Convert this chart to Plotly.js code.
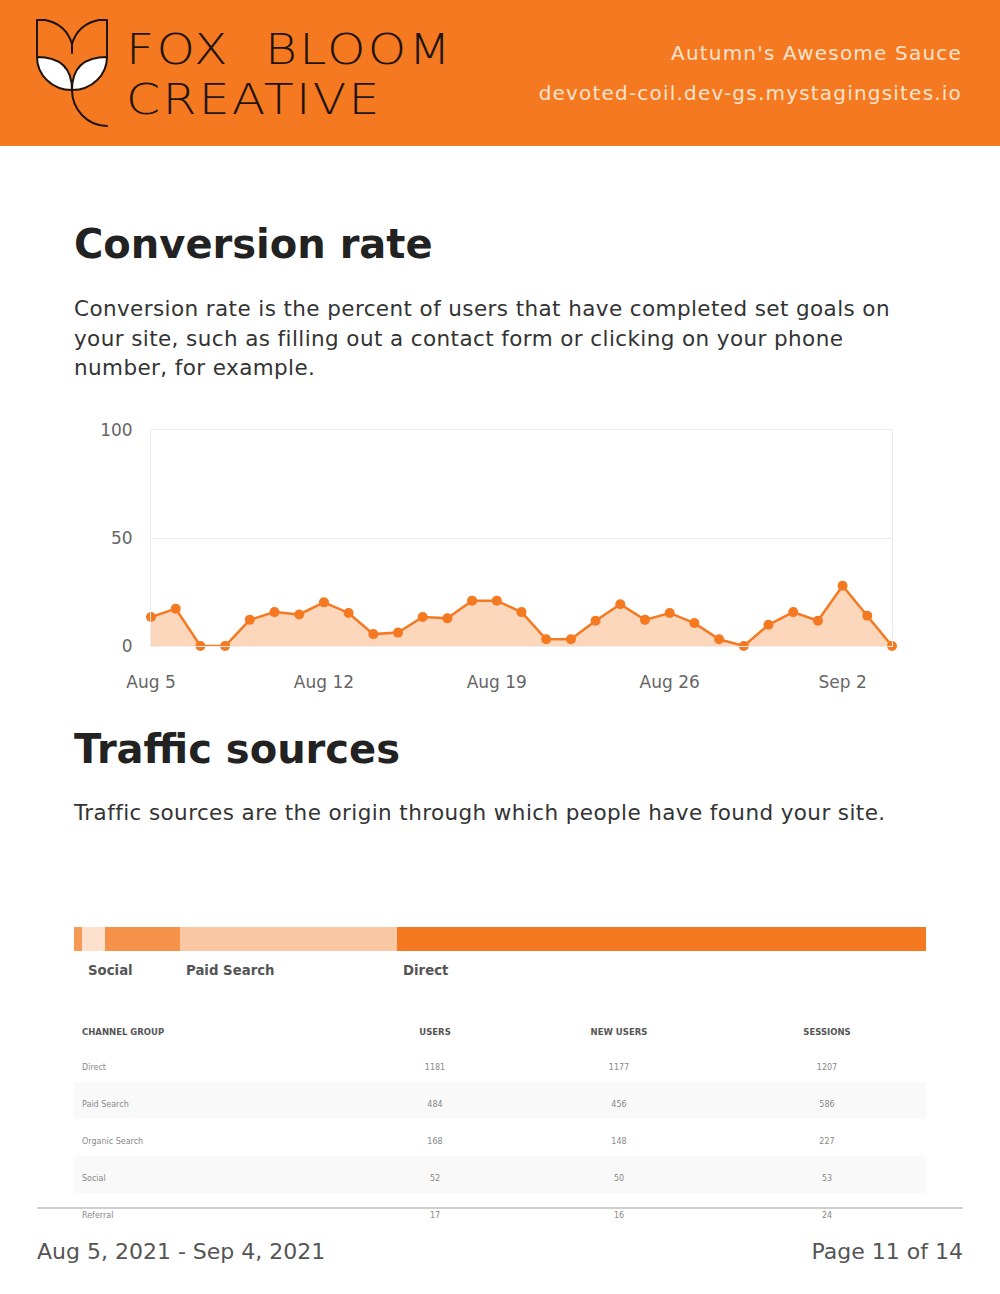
<!DOCTYPE html>
<html>
<head>
<meta charset="utf-8">
<script src="https://cdn.plot.ly/plotly-3.0.1.min.js"></script>
<style>
  html, body { margin:0; padding:0; background:#fff; }
  body { width:1000px; height:1294px; position:relative; overflow:hidden; font-family:"DejaVu Sans", sans-serif; }
  .abs { position:absolute; white-space:nowrap; }
  #header { position:absolute; left:0; top:0; width:1000px; height:146px; background:#F47920; }
  .logo { font-family:"DejaVu Sans ExtraLight","DejaVu Sans",sans-serif; font-weight:200; font-size:42.5px; color:#1f140c; line-height:44px; letter-spacing:2px; transform:scaleX(1.15); transform-origin:0 50%; }
  .hdr { color:#FCE3CF; font-size:20px; letter-spacing:1.2px; line-height:24px; right:38px; text-align:right; }
  .h1 { font-weight:bold; font-size:40px; color:#222; line-height:48px; left:74px; }
  .p { font-size:21.5px; color:#333; line-height:29.5px; left:74px; letter-spacing:0.4px; }
  .foot { font-size:22px; color:#555; line-height:28px; }
  #footline { position:absolute; left:37px; top:1207px; width:926px; height:2px; background:#cfcfcf; z-index:5; }
</style>
</head>
<body>
<div id="header">
  <svg width="150" height="146" style="position:absolute;left:0;top:0">
    <g fill="none" stroke="#1f140c" stroke-width="2" stroke-linecap="round" stroke-linejoin="round">
      <path d="M37,57 C37,75 52,90 72,90 C72,70 62,57 37,57 Z" fill="#fff"/>
      <path d="M107,57 C82,57 72,70 72,90 C92,90 107,75 107,57 Z" fill="#fff"/>
      <path d="M37,57 L37,20 L45,20 Q66,24 72,44 L72,53 M72,44 Q78,24 99,20 L107,20 L107,57"/>
      <path d="M72,90 C72,110 88,126 107,126"/>
    </g>
  </svg>
  <div class="abs logo" style="left:126px;top:28px;word-spacing:15px;">FOX BLOOM</div>
  <div class="abs logo" style="left:126px;top:78px;">CREATIVE</div>
  <div class="abs hdr" style="top:41px;">Autumn's Awesome Sauce</div>
  <div class="abs hdr" style="top:81px;">devoted-coil.dev-gs.mystagingsites.io</div>
</div>

<div class="abs h1" style="top:220px;">Conversion rate</div>
<div class="abs p" style="top:294px;">Conversion rate is the percent of users that have completed set goals on<br>your site, such as filling out a contact form or clicking on your phone<br>number, for example.</div>

<div id="chart" style="position:absolute;left:0;top:400px;width:1000px;height:300px;"></div>

<div class="abs h1" style="top:725px;">Traffic sources</div>
<div class="abs p" style="top:798px;">Traffic sources are the origin through which people have found your site.</div>

<div id="bar" style="position:absolute;left:0;top:915px;width:1000px;height:80px;"></div>
<div id="table" style="position:absolute;left:0;top:1000px;width:1000px;height:260px;"></div>

<div id="footline"></div>
<div style="position:absolute;left:0;top:1232px;width:1000px;height:62px;background:#fff;z-index:4;"></div>
<div class="abs foot" style="left:37px;top:1238px;z-index:6;">Aug 5, 2021 - Sep 4, 2021</div>
<div class="abs foot" style="right:37px;top:1238px;z-index:6;">Page 11 of 14</div>

<script>
// ---- Conversion rate data ----
const dates = ['2021-08-05','2021-08-06','2021-08-07','2021-08-08','2021-08-09','2021-08-10','2021-08-11','2021-08-12','2021-08-13','2021-08-14','2021-08-15','2021-08-16','2021-08-17','2021-08-18','2021-08-19','2021-08-20','2021-08-21','2021-08-22','2021-08-23','2021-08-24','2021-08-25','2021-08-26','2021-08-27','2021-08-28','2021-08-29','2021-08-30','2021-08-31','2021-09-01','2021-09-02','2021-09-03','2021-09-04'];
const conversionRate = [13.4,17.3,0,0,12.1,15.7,14.6,20.2,15.3,5.5,6.2,13.4,12.8,21.0,21.0,15.7,3.1,3.1,11.7,19.3,12.1,15.3,10.6,3.1,0,9.8,15.7,11.7,27.9,14.0,0];
const xTickVals = ['2021-08-05','2021-08-12','2021-08-19','2021-08-26','2021-09-02'];
const xTickText = ['Aug 5','Aug 12','Aug 19','Aug 26','Sep 2'];
const yTickVals = [0,50,100];

// ---- Traffic sources data ----
const channels = ['Direct','Paid Search','Organic Search','Social','Referral'];
const users = [1181,484,168,52,17];
const newUsers = [1177,456,148,50,16];
const sessions = [1207,586,227,53,24];
const tableHeaders = ['CHANNEL GROUP','USERS','NEW USERS','SESSIONS'];
// stacked bar order (left to right) and shown labels
const barOrder = ['Referral','Social','Organic Search','Paid Search','Direct'];
const barColors = ['#F59A55','#FDE1CD','#F6914A','#F9C7A3','#F47920'];
const barLabelShown = ['Social','Paid Search','Direct'];

const ORANGE = '#F47920';
const FONT = 'DejaVu Sans';

Plotly.newPlot('chart', [{
  x: dates, y: conversionRate, type:'scatter', mode:'lines+markers',
  fill:'tozeroy', fillcolor:'rgba(244,121,32,0.3)',
  line:{color:ORANGE, width:2.5}, marker:{color:ORANGE, size:10},
  cliponaxis:false, hoverinfo:'skip'
}], {
  width:1000, height:300,
  margin:{l:151, r:108, t:30, b:54},
  paper_bgcolor:'rgba(0,0,0,0)', plot_bgcolor:'#fff',
  showlegend:false,
  xaxis:{type:'date', range:[dates[0], dates[dates.length-1]], tickvals:xTickVals, ticktext:xTickText,
    showgrid:false, zeroline:false, showline:true, mirror:true, linecolor:'#ececec', linewidth:1,
    ticks:'outside', ticklen:21, tickcolor:'rgba(0,0,0,0)',
    tickfont:{family:FONT, size:17, color:'#666'}},
  yaxis:{range:[0,100], tickvals:yTickVals, showgrid:true, gridcolor:'#ececec', zeroline:false,
    showline:true, mirror:true, linecolor:'#ececec', linewidth:1,
    ticks:'outside', ticklen:14, tickcolor:'rgba(0,0,0,0)',
    tickfont:{family:FONT, size:17, color:'#666'}}
}, {staticPlot:true});

// stacked bar
const barTraces = barOrder.map((name,i) => ({
  type:'bar', orientation:'h', name:name, y:['users'],
  x:[users[channels.indexOf(name)]],
  marker:{color:barColors[i], line:{width:0}}, hoverinfo:'skip'
}));
const total = users.reduce((a,b)=>a+b,0);
const annotations = [];
let cum = 0;
barOrder.forEach(name => {
  const v = users[channels.indexOf(name)];
  if (barLabelShown.includes(name)) {
    annotations.push({x:cum, y:-0.5, xref:'x', yref:'y', text:'<b>'+name+'</b>', showarrow:false,
      xanchor:'left', yanchor:'top', xshift:4, yshift:-10, font:{family:FONT, size:13.3, color:'#555'}});
  }
  cum += v;
});
Plotly.newPlot('bar', barTraces, {
  width:1000, height:80, margin:{l:74, r:74, t:12, b:44},
  barmode:'stack', bargap:0, showlegend:false,
  paper_bgcolor:'rgba(0,0,0,0)', plot_bgcolor:'rgba(0,0,0,0)',
  xaxis:{range:[0,total], visible:false, fixedrange:true},
  yaxis:{range:[-0.5,0.5], visible:false, fixedrange:true},
  annotations:annotations
}, {staticPlot:true});

// table (a blank first line pushes text toward the middle of each 37px row)
const stripe = channels.map((c,i)=> i%2===1 ? '#f9f9f9' : '#ffffff');
const pad = arr => arr.map(v => '\u00a0<br>' + v);
Plotly.newPlot('table', [{
  type:'table',
  columnwidth:[286,150,218,198],
  header:{values:pad(tableHeaders), align:['left','center','center','center'], height:37,
    fill:{color:'#ffffff'}, line:{width:0, color:'rgba(0,0,0,0)'},
    font:{family:FONT, size:8.5, color:'#555', weight:'bold'}},
  cells:{values:[pad(channels), pad(users), pad(newUsers), pad(sessions)], align:['left','center','center','center'], height:37,
    fill:{color:[stripe,stripe,stripe,stripe]}, line:{width:0, color:'rgba(0,0,0,0)'},
    font:{family:FONT, size:8, color:'#888'}}
}], {
  width:1000, height:260, margin:{l:74, r:74, t:8, b:0},
  paper_bgcolor:'rgba(0,0,0,0)'
}, {staticPlot:true});
</script>
</body>
</html>
